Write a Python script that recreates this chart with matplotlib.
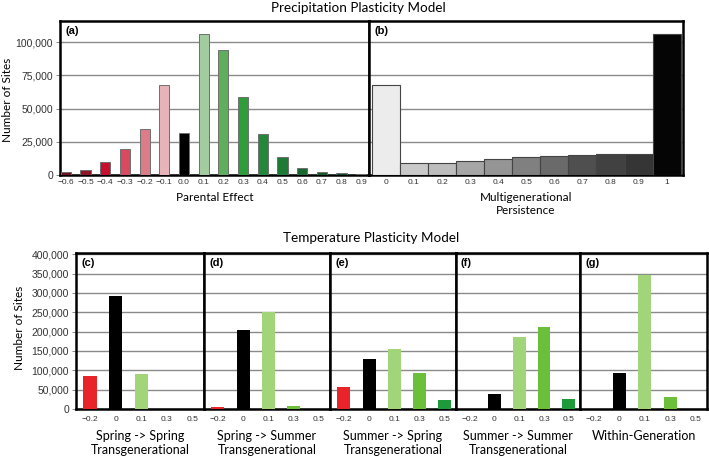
import matplotlib
matplotlib.use("Agg")
import matplotlib.pyplot as plt
import numpy as np

# ---- data ----
pe_labels = ["-0.6", "-0.5", "-0.4", "-0.3", "-0.2", "-0.1", "0.0", "0.1", "0.2",
             "0.3", "0.4", "0.5", "0.6", "0.7", "0.8", "0.9"]
pe_values = [2500, 4000, 9500, 19500, 35000, 67500, 32000, 106500, 94000,
             59000, 31000, 13500, 5500, 2500, 1300, 800]
pe_colors = ["#6e1420", "#8f1628", "#c8102e", "#d84a5e", "#dc7c88", "#e8b3b8", "#000000",
             "#a3cba0", "#5fae5e", "#2e9e3a", "#23883a", "#1e7b36", "#1a6a2f", "#155a27",
             "#114a21", "#0d3a1a"]

mp_labels = ["0", "0.1", "0.2", "0.3", "0.4", "0.5", "0.6", "0.7", "0.8", "0.9", "1"]
mp_values = [67500, 9000, 9200, 10500, 12000, 13700, 14500, 15200, 15700, 15700, 106500]
mp_colors = ["#ececec", "#c9c9c9", "#bdbdbd", "#a6a6a6", "#959595", "#808080",
             "#6a6a6a", "#4f4f4f", "#414141", "#353535", "#050505"]

temp_labels = ["-0.2", "0", "0.1", "0.3", "0.5"]
temp_colors = ["#e8242a", "#000000", "#a2d47a", "#6cbf3a", "#1e9a3a"]
temp_panels = ["(c)", "(d)", "(e)", "(f)", "(g)"]
temp_titles = ["Spring -> Spring\nTransgenerational",
               "Spring -> Summer\nTransgenerational",
               "Summer -> Spring\nTransgenerational",
               "Summer -> Summer\nTransgenerational",
               "Within-Generation"]
temp_values = [
    [85000, 292000, 90000, 0, 0],
    [5000, 203000, 250000, 9000, 0],
    [58000, 129000, 155000, 93000, 22000],
    [0, 40000, 187000, 213000, 25000],
    [0, 93000, 346000, 32000, 0],
]

W, H = 709, 458
fig = plt.figure(figsize=(W / 100, H / 100), dpi=100)
LBL = "Lato"
TCK = "Liberation Sans"


def fx(px):
    return px / W


def fy(py):
    return 1 - py / H


def ax_at(l, t, r, b):
    return fig.add_axes([fx(l), fy(b), fx(r) - fx(l), fy(t) - fy(b)])


def style(ax):
    for s in ax.spines.values():
        s.set_linewidth(1.8)
        s.set_color("black")
    ax.set_axisbelow(True)
    ax.yaxis.grid(True, color="#8a8a8a", linewidth=1.0)
    ax.tick_params(axis="x", length=0, pad=3, labelsize=6, labelcolor="#333333")
    ax.tick_params(axis="y", length=3, width=0.6, color="#777777", pad=2,
                   labelsize=7.5, labelcolor="#333333")
    for t in ax.get_xticklabels() + ax.get_yticklabels():
        t.set_fontfamily(TCK)


def fmt(v):
    return f"{v:,}"


# ---- top panels ----
top, bot = 21, 175
axa = ax_at(60, top, 369, bot)
xa = np.arange(len(pe_values))
axa.bar(xa, pe_values, width=0.52, color=pe_colors, edgecolor="#6f6f6f", linewidth=0.7, zorder=3)
axa.set_xlim(-0.3, 15.4)
axa.set_ylim(0, 116000)
yt = [0, 25000, 50000, 75000, 100000]
axa.set_yticks(yt)
axa.set_yticklabels([fmt(v) for v in yt])
axa.set_xticks(xa)
axa.set_xticklabels([l.replace("-", "\u2212") for l in pe_labels])
style(axa)
axa.set_xlabel("Parental Effect", fontfamily=LBL, fontsize=8.5, labelpad=4)
axa.text(0.018, 0.97, "(a)", transform=axa.transAxes, ha="left", va="top",
         fontsize=8, fontweight="bold", fontfamily=TCK)
fig.text(fx(8), fy(100), "Number of Sites", rotation=90, ha="center", va="center",
         fontfamily=LBL, fontsize=8.5)

axb = ax_at(369, top, 683, bot)
xb = np.arange(len(mp_values))
axb.bar(xb, mp_values, width=1.0, color=mp_colors, edgecolor="#444444", linewidth=0.8, zorder=3)
axb.set_xlim(-0.6, 10.58)
axb.set_ylim(0, 116000)
axb.set_yticks(yt)
axb.set_yticklabels([])
axb.set_xticks(xb)
axb.set_xticklabels(mp_labels)
style(axb)
axb.tick_params(axis="y", length=0)
axb.set_xlabel("Multigenerational\nPersistence", fontfamily=LBL, fontsize=8.5,
               labelpad=4, linespacing=1.2)
axb.text(0.018, 0.97, "(b)", transform=axb.transAxes, ha="left", va="top",
         fontsize=8, fontweight="bold", fontfamily=TCK)

fig.text(fx(358), fy(8), "Precipitation Plasticity Model", ha="center", va="center",
         fontfamily=LBL, fontsize=9.7)

# ---- bottom panels ----
edges = [76, 204, 330, 456, 580, 707]
btop, bbot = 253, 409
xt = np.arange(len(temp_labels))
ybt = list(range(0, 400001, 50000))
for i in range(5):
    ax = ax_at(edges[i], btop, edges[i + 1], bbot)
    ax.bar(xt, temp_values[i], width=0.52, color=temp_colors, linewidth=0, zorder=3)
    ax.set_xlim(-0.55, 4.45)
    ax.set_ylim(0, 403000)
    ax.set_yticks(ybt)
    ax.set_xticks(xt)
    ax.set_xticklabels([l.replace("-", "\u2212") for l in temp_labels])
    if i == 0:
        ax.set_yticklabels([fmt(v) for v in ybt])
    else:
        ax.set_yticklabels([])
    style(ax)
    if i > 0:
        ax.tick_params(axis="y", length=0)
    ax.tick_params(axis="x", labelsize=6, pad=5)
    ax.set_xlabel(temp_titles[i], fontfamily=LBL, fontsize=9, labelpad=5, linespacing=1.2)
    ax.text(0.04, 0.97, temp_panels[i], transform=ax.transAxes, ha="left", va="top",
            fontsize=8, fontweight="bold", fontfamily=TCK)

fig.text(fx(20), fy(328), "Number of Sites", rotation=90, ha="center", va="center",
         fontfamily=LBL, fontsize=8.5)
fig.text(fx(371), fy(238), "Temperature Plasticity Model", ha="center", va="center",
         fontfamily=LBL, fontsize=9.7)

fig.savefig("out.png", dpi=100)
